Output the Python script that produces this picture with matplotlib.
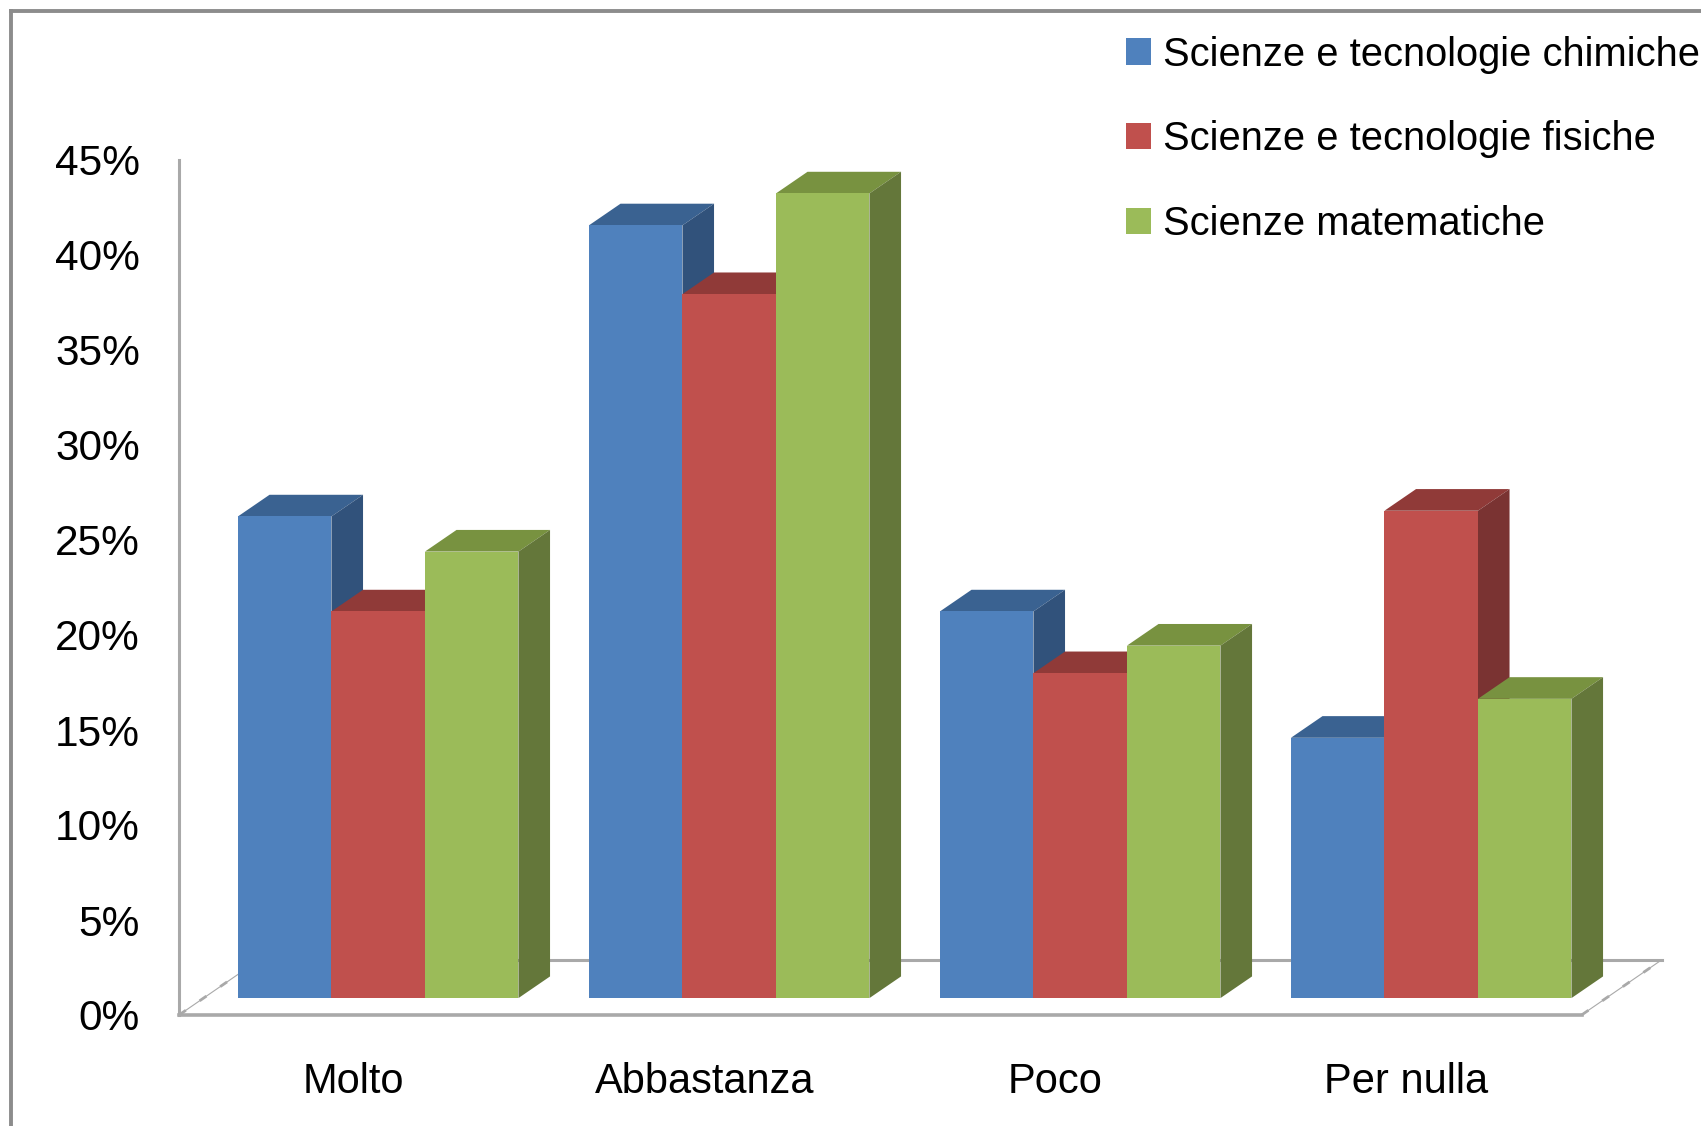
import matplotlib
matplotlib.use('Agg')
import matplotlib.pyplot as plt
from matplotlib.lines import Line2D

# Data
categorie = ["Molto", "Abbastanza", "Poco", "Per nulla"]
serie = ["Scienze e tecnologie chimiche", "Scienze e tecnologie fisiche", "Scienze matematiche"]
chimiche = [25.35, 40.67, 20.35, 13.7]
fisiche = [20.35, 37.05, 17.1, 25.65]
matematiche = [23.5, 42.35, 18.55, 15.75]
valori = [chimiche, fisiche, matematiche]
y_ticks = [0, 5, 10, 15, 20, 25, 30, 35, 40, 45]

# Face colours: front, top, side
fronte = ['#4F81BD', '#C0504D', '#9BBB59']
sopra = ['#3A6291', '#903A38', '#789240']
lato = ['#31527B', '#7A3332', '#64773A']
GRIGIO = '#A9A9A9'

W, H = 1701, 1126
plt.rcParams['font.family'] = ['Liberation Sans', 'DejaVu Sans']

fig = plt.figure(figsize=(W / 100, H / 100), dpi=100, facecolor='white')
ax = fig.add_axes([179 / W, (H - 1015) / H, (1581.6 - 179) / W, (1015 - 160) / H])
ax.set_xlim(-0.5675, 3.4285)
ax.set_ylim(0, 45)

larghezza = 0.2664   # bar width
base = 0.89          # bars stand in the middle of the floor
prof_x, prof_y = 0.09, 1.14       # bar depth
piano_x, piano_y = 0.228, 2.9     # floor depth

# Floor
x0, x1 = ax.get_xlim()
ax.plot([x0 + piano_x, x1 + piano_x], [piano_y, piano_y], color=GRIGIO, lw=2.2, zorder=1, clip_on=False)
for x_fronte in (x0, x1):
    ax.plot([x_fronte, x_fronte + piano_x], [0, piano_y], color=GRIGIO, lw=0.8, zorder=1, clip_on=False)
    ax.plot([x_fronte, x_fronte + piano_x], [0, piano_y], color=GRIGIO, lw=2.0, ls=(0, (3, 6)),
            zorder=1, clip_on=False)

# Fake 3D bars
z = 2
for g in range(len(categorie)):
    for s in range(len(serie)):
        v = valori[s][g]
        left = g + (s - 1.5) * larghezza
        right = left + larghezza
        top = base + v
        ax.fill([left, left + prof_x, right + prof_x, right],
                [top, top + prof_y, top + prof_y, top],
                color=sopra[s], lw=0, zorder=z, clip_on=False)
        ax.fill([right, right + prof_x, right + prof_x, right],
                [base, base + prof_y, top + prof_y, top],
                color=lato[s], lw=0, zorder=z, clip_on=False)
        ax.bar(left, v, width=larghezza, bottom=base, align='edge', color=fronte[s], lw=0,
               zorder=z + 1, label=serie[s] if g == 0 else None)
        z += 2

# Axes
for nome in ['top', 'right']:
    ax.spines[nome].set_visible(False)
ax.spines['left'].set_color(GRIGIO)
ax.spines['left'].set_linewidth(2.2)
ax.spines['bottom'].set_color(GRIGIO)
ax.spines['bottom'].set_linewidth(2.6)

ax.set_yticks(y_ticks)
ax.set_yticklabels([f"{t}%" for t in y_ticks])
ax.set_xticks([g - 0.071 for g in range(len(categorie))])
ax.set_xticklabels(categorie)
ax.tick_params(axis='y', length=0, pad=28, labelsize=30.5)
ax.tick_params(axis='x', length=0, pad=34, labelsize=30)

# Legend, reaches the right edge as in the original
fig.legend(loc='upper left', bbox_to_anchor=(1126 / W, 1 - 35.5 / H), bbox_transform=fig.transFigure,
           frameon=False, fontsize=28.7, handlelength=0.63, handleheight=0.63, handletextpad=0.31,
           labelspacing=1.17, borderpad=0, borderaxespad=0)

# Outer frame
cornice = '#8C8C8C'
fig.add_artist(Line2D([11 / W, 11 / W], [0, 1 - 11 / H], color=cornice, lw=2.8))
fig.add_artist(Line2D([11 / W, 1], [1 - 11 / H, 1 - 11 / H], color=cornice, lw=2.8))

fig.savefig('out.png', dpi=100)
